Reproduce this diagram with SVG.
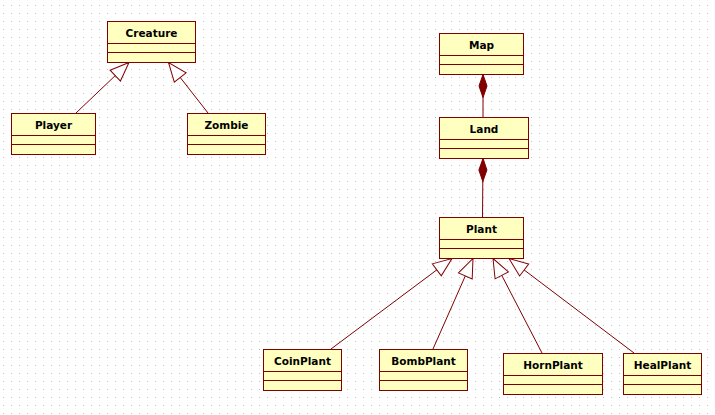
<svg xmlns="http://www.w3.org/2000/svg" width="715" height="415" viewBox="0 0 715 415">
<style>
.box{fill:#ffffc0;stroke:#800000;stroke-width:1}
.div{stroke:#800000;stroke-width:1}
.lbl{font-family:"DejaVu Sans",Verdana,sans-serif;font-weight:bold;font-size:10.5px;fill:#000;text-anchor:middle}
.gen{stroke:#800000;stroke-width:1;fill:none;marker-end:url(#tri)}
.comp{stroke:#800000;stroke-width:1;fill:none;marker-start:url(#dia)}
</style>
<defs>
<pattern id="grid" x="0" y="0" width="8" height="8" patternUnits="userSpaceOnUse">
<rect x="3" y="5" width="1" height="1" fill="#c4c4c4"/>
</pattern>
<marker id="tri" markerUnits="userSpaceOnUse" markerWidth="22" markerHeight="18" refX="20" refY="9" orient="auto" overflow="visible">
<path d="M1,1.5 L20,9 L1,16.5 Z" fill="#ffffff" stroke="#800000" stroke-width="1"/>
</marker>
<marker id="dia" markerUnits="userSpaceOnUse" markerWidth="26" markerHeight="10" refX="0" refY="5" orient="auto" overflow="visible">
<path d="M0,5 L11.5,1 L23,5 L11.5,9 Z" fill="#800000" stroke="#800000" stroke-width="1"/>
</marker>
</defs>
<rect width="715" height="415" fill="#ffffff"/>
<rect width="715" height="415" fill="url(#grid)"/>
<g id="connectors">
<line class="gen" x1="76" y1="113" x2="129" y2="62.5"/>
<line class="gen" x1="208" y1="113" x2="168.5" y2="62.5"/>
<line class="comp" x1="483" y1="74.5" x2="483" y2="117"/>
<line class="comp" x1="483" y1="158.5" x2="482.5" y2="217"/>
<line class="gen" x1="331" y1="349" x2="452" y2="258.5"/>
<line class="gen" x1="433" y1="349" x2="473" y2="258.5"/>
<line class="gen" x1="542" y1="353" x2="493" y2="258.5"/>
<line class="gen" x1="634" y1="353" x2="509" y2="258.5"/>
</g>
<g id="Creature">
<rect class="box" x="107.5" y="21.5" width="88" height="41"/>
<line class="div" x1="107.5" y1="43.5" x2="195.5" y2="43.5"/>
<line class="div" x1="107.5" y1="52.5" x2="195.5" y2="52.5"/>
<text class="lbl" x="151.5" y="36.5">Creature</text>
</g>
<g id="Player">
<rect class="box" x="11.5" y="113.5" width="84" height="41"/>
<line class="div" x1="11.5" y1="135.5" x2="95.5" y2="135.5"/>
<line class="div" x1="11.5" y1="144.5" x2="95.5" y2="144.5"/>
<text class="lbl" x="53.5" y="128.5">Player</text>
</g>
<g id="Zombie">
<rect class="box" x="187.5" y="113.5" width="78" height="41"/>
<line class="div" x1="187.5" y1="135.5" x2="265.5" y2="135.5"/>
<line class="div" x1="187.5" y1="144.5" x2="265.5" y2="144.5"/>
<text class="lbl" x="226.5" y="128.5">Zombie</text>
</g>
<g id="Map">
<rect class="box" x="439.5" y="33.5" width="84" height="41"/>
<line class="div" x1="439.5" y1="55.5" x2="523.5" y2="55.5"/>
<line class="div" x1="439.5" y1="64.5" x2="523.5" y2="64.5"/>
<text class="lbl" x="481.5" y="48.5">Map</text>
</g>
<g id="Land">
<rect class="box" x="439.5" y="117.5" width="89" height="41"/>
<line class="div" x1="439.5" y1="139.5" x2="528.5" y2="139.5"/>
<line class="div" x1="439.5" y1="148.5" x2="528.5" y2="148.5"/>
<text class="lbl" x="484" y="132.5">Land</text>
</g>
<g id="Plant">
<rect class="box" x="439.5" y="217.5" width="84" height="41"/>
<line class="div" x1="439.5" y1="239.5" x2="523.5" y2="239.5"/>
<line class="div" x1="439.5" y1="248.5" x2="523.5" y2="248.5"/>
<text class="lbl" x="481.5" y="232.5">Plant</text>
</g>
<g id="CoinPlant">
<rect class="box" x="263.5" y="349.5" width="78" height="41"/>
<line class="div" x1="263.5" y1="371.5" x2="341.5" y2="371.5"/>
<line class="div" x1="263.5" y1="380.5" x2="341.5" y2="380.5"/>
<text class="lbl" x="302.5" y="364.5">CoinPlant</text>
</g>
<g id="BombPlant">
<rect class="box" x="379.5" y="349.5" width="88" height="41"/>
<line class="div" x1="379.5" y1="371.5" x2="467.5" y2="371.5"/>
<line class="div" x1="379.5" y1="380.5" x2="467.5" y2="380.5"/>
<text class="lbl" x="423.5" y="364.5">BombPlant</text>
</g>
<g id="HornPlant">
<rect class="box" x="503.5" y="353.5" width="99" height="41"/>
<line class="div" x1="503.5" y1="375.5" x2="602.5" y2="375.5"/>
<line class="div" x1="503.5" y1="384.5" x2="602.5" y2="384.5"/>
<text class="lbl" x="553" y="368.5">HornPlant</text>
</g>
<g id="HealPlant">
<rect class="box" x="623.5" y="353.5" width="78" height="41"/>
<line class="div" x1="623.5" y1="375.5" x2="701.5" y2="375.5"/>
<line class="div" x1="623.5" y1="384.5" x2="701.5" y2="384.5"/>
<text class="lbl" x="662.5" y="368.5">HealPlant</text>
</g>
</svg>
